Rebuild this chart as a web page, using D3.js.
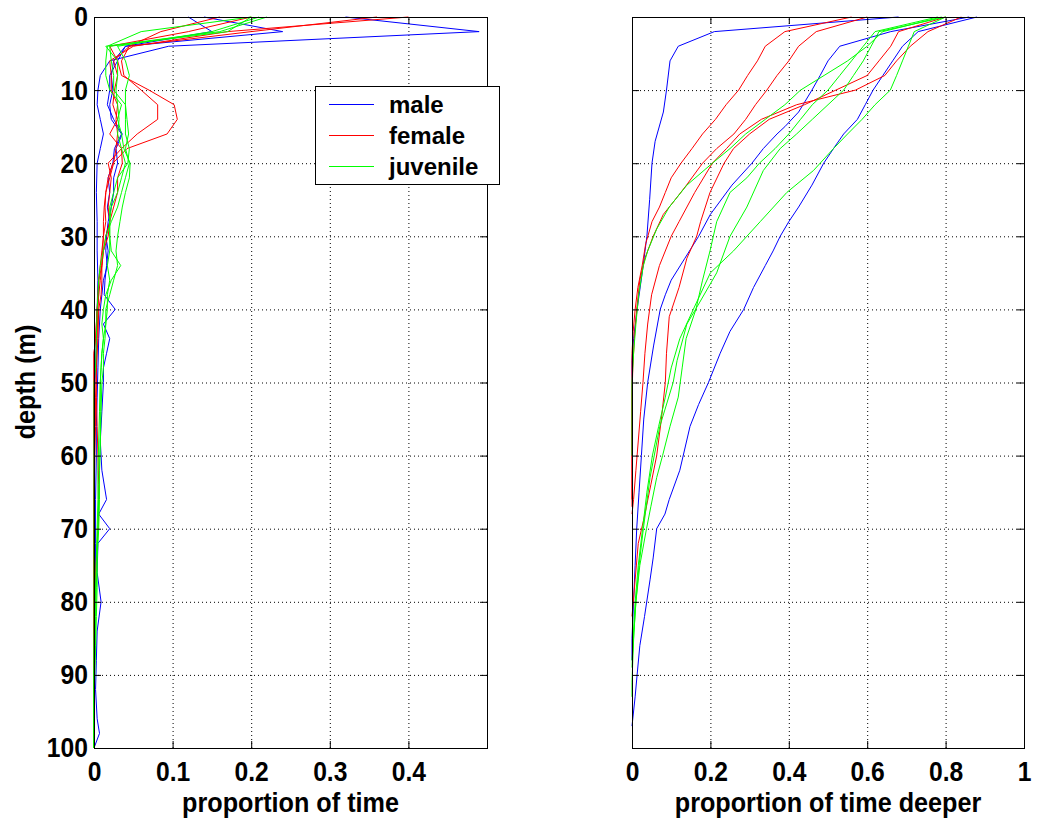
<!DOCTYPE html>
<html>
<head>
<meta charset="utf-8">
<script src="https://cdn.jsdelivr.net/npm/d3@7"></script>
<style>
    body { margin: 0; background: #fff; }
    svg text { font-family: Arial, "Liberation Sans", sans-serif; font-weight: bold; fill: #000; }
    .grid line { stroke: #000; stroke-dasharray: 1,3; }
    .axis line { stroke: #000; }
</style>
</head>
<body>
<div id="chart"></div>
<script>
/* * * * * * * * * * * * * *
*   time at depth, 2 panels  *
* * * * * * * * * * * * * */

// ticks
const depthTicks = [0, 10, 20, 30, 40, 50, 60, 70, 80, 90, 100];
const timeTicks = [0, 0.1, 0.2, 0.3, 0.4];
const deeperTicks = [0, 0.2, 0.4, 0.6, 0.8, 1];

const groupNames = ['male', 'female', 'juvenile'];
const groupColors = ['#0000ff', '#ff0000', '#00ff00'];

// left panel: proportion of time in each depth bin, [depth, proportion]
const maleTime = [
    [[0,0.32],[2,0.49],[4,0.095],[6,0.02],[8,0.008],[10,0.005],[12,0.004],[14,0.008],[16,0.012],[18,0.008],[20,0.004],[24,0.003],[28,0.004],[32,0.004],[36,0.005],[40,0.004],[44,0.003],[48,0.002],[52,0],[100,0]],
    [[0,0.12],[2,0.15],[4,0.04],[6,0.025],[8,0.022],[10,0.024],[12,0.02],[14,0.022],[16,0.035],[18,0.026],[20,0.024],[22,0.018],[24,0.02],[26,0.017],[28,0.02],[30,0.015],[32,0.018],[34,0.016],[36,0.014],[38,0.013],[40,0.027],[42,0.012],[44,0.02],[46,0.016],[48,0.012],[50,0.012],[54,0.01],[58,0.008],[62,0.01],[66,0.016],[68,0.006],[70,0.02],[72,0.005],[76,0.004],[80,0.009],[84,0.004],[88,0.003],[92,0.002],[96,0.004],[98,0.007],[100,0]],
    [[0,0.14],[2,0.24],[4,0.04],[6,0.03],[8,0.02],[10,0.02],[12,0.017],[14,0.025],[16,0.036],[18,0.028],[20,0.03],[22,0.025],[24,0.025],[26,0.022],[28,0.018],[30,0.016],[32,0.015],[34,0.017],[36,0.012],[38,0.01],[40,0.008],[44,0.006],[48,0.005],[52,0.004],[56,0.003],[60,0.003],[66,0.002],[72,0.002],[78,0.002],[84,0],[100,0]]
];
const femaleTime = [
    [[0,0.4],[2,0.17],[4,0.05],[6,0.02],[8,0.022],[10,0.022],[12,0.03],[14,0.028],[16,0.03],[18,0.028],[20,0.025],[22,0.02],[24,0.015],[26,0.014],[28,0.015],[30,0.012],[32,0.01],[34,0.008],[36,0.006],[38,0.006],[40,0.004],[44,0.002],[46,0],[100,0]],
    [[0,0.36],[2,0.2],[4,0.045],[6,0.025],[8,0.03],[10,0.026],[12,0.024],[14,0.03],[16,0.02],[18,0.035],[20,0.036],[22,0.03],[24,0.03],[26,0.025],[28,0.02],[30,0.018],[32,0.012],[34,0.01],[36,0.006],[38,0.005],[40,0.004],[42,0.003],[44,0.002],[46,0],[100,0]],
    [[0,0.2],[2,0.12],[4,0.02],[6,0.03],[8,0.035],[10,0.07],[12,0.102],[14,0.106],[16,0.093],[18,0.042],[20,0.024],[22,0.018],[24,0.015],[26,0.013],[28,0.012],[30,0.012],[32,0.011],[34,0.01],[36,0.01],[38,0.009],[40,0.006],[44,0.005],[48,0.003],[52,0.003],[56,0.004],[60,0.005],[64,0.006],[68,0.006],[72,0.004],[76,0.002],[80,0.001],[84,0],[100,0]],
    [[0,0.16],[2,0.085],[4,0.045],[6,0.035],[8,0.038],[10,0.06],[12,0.081],[14,0.081],[16,0.055],[18,0.035],[20,0.018],[22,0.022],[24,0.02],[26,0.018],[28,0.02],[30,0.015],[32,0.012],[34,0.01],[36,0.008],[38,0.006],[40,0.005],[44,0.004],[48,0.003],[52,0.002],[56,0.002],[60,0.001],[66,0],[100,0]]
];
const juvenileTime = [
    [[0,0.21],[2,0.15],[4,0.03],[6,0.04],[8,0.045],[10,0.04],[12,0.04],[14,0.042],[16,0.044],[18,0.04],[20,0.045],[22,0.04],[24,0.035],[26,0.03],[28,0.022],[30,0.015],[32,0.012],[34,0.008],[36,0.006],[38,0.005],[40,0.004],[44,0.003],[48,0.002],[50,0],[100,0]],
    [[0,0.22],[2,0.16],[4,0.015],[6,0.03],[8,0.03],[10,0.028],[12,0.03],[14,0.032],[16,0.03],[18,0.035],[20,0.04],[22,0.035],[24,0.03],[26,0.022],[28,0.02],[30,0.02],[32,0.022],[34,0.034],[36,0.022],[38,0.015],[40,0.012],[42,0.01],[44,0.012],[46,0.01],[48,0.009],[50,0.008],[54,0.008],[58,0.008],[62,0.007],[66,0.006],[70,0.005],[74,0.004],[78,0.003],[82,0.002],[86,0.002],[90,0.001],[94,0],[100,0]],
    [[0,0.2],[2,0.17],[4,0.02],[6,0.022],[8,0.025],[10,0.025],[12,0.04],[14,0.04],[16,0.04],[18,0.045],[20,0.043],[22,0.03],[24,0.025],[26,0.02],[28,0.02],[30,0.02],[32,0.02],[34,0.017],[36,0.02],[38,0.017],[40,0.017],[42,0.015],[44,0.014],[46,0.012],[48,0.012],[50,0.01],[54,0.009],[58,0.008],[62,0.007],[66,0.007],[70,0.006],[74,0.004],[78,0.004],[82,0.003],[86,0.002],[90,0],[100,0]],
    [[0,0.2],[2,0.06],[4,0.017],[6,0.015],[8,0.015],[10,0.02],[12,0.035],[14,0.03],[16,0.035],[18,0.038],[20,0.046],[22,0.045],[24,0.04],[26,0.036],[28,0.033],[30,0.03],[32,0.028],[34,0.03],[36,0.025],[38,0.02],[40,0.015],[42,0.015],[44,0.012],[46,0.01],[48,0.009],[50,0.008],[54,0.007],[58,0.006],[62,0.005],[66,0.005],[70,0.004],[74,0.003],[78,0.002],[82,0.001],[86,0],[100,0]]
];

// right panel: proportion of time deeper than depth, [depth, proportion]
const maleDeeper = [
    [[0,0.68],[2,0.21],[4,0.118],[6,0.097],[10,0.088],[13,0.08],[17,0.059],[20,0.051],[25,0.045],[30,0.038],[35,0.026],[40,0.013],[44,0.004],[47,0],[60,0]],
    [[0,0.88],[2,0.73],[4,0.69],[6,0.665],[8,0.64],[10,0.615],[12,0.595],[14,0.575],[16,0.54],[18,0.514],[20,0.489],[23,0.459],[26,0.425],[28,0.4],[30,0.378],[32,0.36],[34,0.34],[37,0.31],[40,0.285],[43,0.25],[46,0.225],[50,0.195],[53,0.17],[56,0.148],[62,0.122],[66,0.095],[68,0.084],[70,0.063],[74,0.054],[77,0.046],[82,0.032],[86,0.02],[90,0.013],[93,0.008],[97,0]],
    [[0,0.86],[2,0.66],[4,0.53],[6,0.5],[8,0.48],[10,0.459],[13,0.425],[15,0.39],[16,0.37],[18,0.335],[20,0.306],[23,0.255],[27,0.2],[30,0.17],[33,0.135],[36,0.1],[38,0.085],[40,0.072],[45,0.055],[50,0.04],[55,0.03],[60,0.024],[65,0.018],[70,0.012],[75,0.008],[80,0.004],[85,0],[88,0]]
];
const femaleDeeper = [
    [[0,0.56],[2,0.39],[4,0.34],[6,0.32],[8,0.295],[10,0.272],[12,0.24],[14,0.213],[16,0.18],[18,0.153],[20,0.125],[22,0.1],[24,0.085],[26,0.07],[28,0.051],[31,0.035],[34,0.026],[37,0.015],[40,0.008],[43,0.003],[46,0],[67,0]],
    [[0,0.6],[2,0.47],[4,0.425],[6,0.4],[8,0.37],[10,0.344],[12,0.315],[14,0.29],[16,0.26],[18,0.216],[20,0.18],[23,0.139],[25,0.11],[27,0.08],[30,0.054],[33,0.033],[36,0.02],[40,0.012],[44,0.006],[48,0.002],[52,0],[66,0]],
    [[0,0.8],[2,0.68],[4,0.66],[6,0.63],[8,0.6],[10,0.52],[12,0.44],[14,0.35],[16,0.3],[18,0.259],[20,0.235],[24,0.199],[28,0.175],[30,0.165],[33,0.14],[37,0.12],[41,0.095],[46,0.088],[50,0.085],[55,0.075],[60,0.063],[64,0.048],[68,0.033],[72,0.016],[77,0.008],[82,0]],
    [[0,0.84],[2,0.755],[4,0.71],[6,0.675],[8,0.645],[10,0.57],[12,0.42],[14,0.33],[16,0.275],[18,0.241],[20,0.205],[24,0.16],[28,0.12],[30,0.1],[34,0.07],[38,0.05],[42,0.04],[46,0.033],[50,0.028],[54,0.022],[58,0.016],[62,0.01],[66,0.004],[68,0]]
];
const juvenileDeeper = [
    [[0,0.79],[2,0.64],[4,0.6],[6,0.55],[8,0.49],[10,0.43],[12,0.39],[14,0.34],[16,0.29],[18,0.25],[20,0.205],[23,0.14],[26,0.095],[29,0.063],[32,0.04],[34,0.029],[38,0.017],[42,0.01],[46,0.004],[50,0],[60,0]],
    [[0,0.78],[2,0.62],[4,0.59],[6,0.56],[8,0.53],[10,0.5],[12,0.46],[14,0.43],[16,0.4],[18,0.365],[20,0.325],[22,0.293],[24,0.25],[28,0.216],[32,0.199],[36,0.18],[40,0.163],[44,0.138],[48,0.128],[52,0.118],[56,0.097],[60,0.078],[63,0.063],[67,0.048],[70,0.037],[75,0.02],[80,0.01],[84,0.005],[88,0.002],[91,0],[93,0]],
    [[0,0.8],[2,0.63],[4,0.61],[6,0.59],[8,0.565],[10,0.54],[12,0.5],[14,0.46],[16,0.42],[18,0.378],[21,0.335],[26,0.293],[30,0.25],[35,0.216],[39,0.173],[42,0.14],[47,0.115],[50,0.105],[56,0.071],[63,0.046],[70,0.029],[75,0.018],[80,0.01],[85,0.004],[88,0]],
    [[0,0.8],[2,0.72],[4,0.705],[6,0.69],[8,0.675],[10,0.659],[12,0.62],[14,0.587],[16,0.55],[18,0.514],[21,0.463],[24,0.395],[28,0.327],[32,0.259],[35,0.2],[39,0.165],[44,0.122],[48,0.1],[52,0.085],[56,0.068],[60,0.052],[65,0.038],[70,0.027],[75,0.016],[80,0.008],[85,0.003],[89,0]]
];


class depthVis {
    constructor(svg, groups, opts) {
        this.svg = svg;
        this.groups = groups;
        this.opts = opts;
        this.initVis();
    }

    initVis() {
        let vis = this;
        vis.width = vis.opts.width;
        vis.height = vis.opts.height;

        vis.g = vis.svg.append('g')
            .attr('transform', `translate(${vis.opts.left}, ${vis.opts.top})`);

        vis.x = d3.scaleLinear().domain(vis.opts.xDomain).range([0, vis.width]);
        vis.y = d3.scaleLinear().domain([0, 100]).range([0, vis.height]);

        // dotted grid (no line on the box edges)
        vis.g.append('g').attr('class', 'grid')
            .attr('transform', `translate(0, ${vis.height})`)
            .call(d3.axisBottom(vis.x)
                .tickValues(vis.opts.xTicks.filter(t => t > vis.opts.xDomain[0] && t < vis.opts.xDomain[1]))
                .tickSize(-vis.height).tickFormat(''))
            .call(g => g.select('.domain').remove());
        vis.g.append('g').attr('class', 'grid')
            .call(d3.axisLeft(vis.y)
                .tickValues(depthTicks.slice(1, -1))
                .tickSize(-vis.width).tickFormat(''))
            .call(g => g.select('.domain').remove());

        vis.line = d3.line()
            .x(d => vis.x(d[1]))
            .y(d => vis.y(d[0]));

        vis.wrangleData();
    }

    wrangleData() {
        let vis = this;
        // flatten to one entry per animal so the join is simple
        vis.lines = [];
        vis.groups.forEach(grp => {
            grp.lines.forEach(l => vis.lines.push({color: grp.color, values: l}));
        });
        vis.updateVis();
    }

    updateVis() {
        let vis = this;

        vis.g.append('g').selectAll('path')
            .data(vis.lines)
            .enter().append('path')
            .attr('d', d => vis.line(d.values))
            .attr('fill', 'none')
            .attr('stroke', d => d.color)
            .attr('stroke-width', 1);

        // axes - ticks point inward on all four sides
        let tl = -7;
        vis.g.append('g').attr('class', 'axis')
            .attr('transform', `translate(0, ${vis.height})`)
            .call(d3.axisBottom(vis.x).tickValues(vis.opts.xTicks).tickSize(tl).tickPadding(13)
                .tickFormat(d3.format('~g')));
        vis.g.append('g').attr('class', 'axis')
            .call(d3.axisTop(vis.x).tickValues(vis.opts.xTicks).tickSize(tl).tickFormat(''));
        vis.g.append('g').attr('class', 'axis')
            .call(d3.axisLeft(vis.y).tickValues(depthTicks).tickSize(tl).tickPadding(7)
                .tickFormat(vis.opts.yLabels ? d3.format('d') : ''));
        vis.g.append('g').attr('class', 'axis')
            .attr('transform', `translate(${vis.width}, 0)`)
            .call(d3.axisRight(vis.y).tickValues(depthTicks).tickSize(tl).tickFormat(''));

        vis.g.selectAll('.axis .domain').remove();
        // the original font is a bit narrow, squeeze it sideways
        vis.g.selectAll('.axis text')
            .attr('font-size', 28)
            .attr('font-family', null)
            .attr('transform', 'scale(0.88, 1)');

        // box
        vis.g.append('rect')
            .attr('x', 0.5).attr('y', 0.5)
            .attr('width', vis.width).attr('height', vis.height)
            .attr('fill', 'none').attr('stroke', '#000');

        vis.g.append('text')
            .attr('transform', `translate(${vis.width / 2}, ${vis.height + 64}) scale(0.9, 1)`)
            .attr('text-anchor', 'middle')
            .attr('font-size', 28)
            .text(vis.opts.xLabel);
    }
}


let svg = d3.select('#chart').append('svg')
    .attr('width', 1038)
    .attr('height', 823);

let timeVis = new depthVis(svg, [
    {color: groupColors[0], lines: maleTime},
    {color: groupColors[1], lines: femaleTime},
    {color: groupColors[2], lines: juvenileTime}
], {left: 94, top: 17, width: 393, height: 731, xDomain: [0, 0.5], xTicks: timeTicks,
    yLabels: true, xLabel: 'proportion of time'});

let deeperVis = new depthVis(svg, [
    {color: groupColors[0], lines: maleDeeper},
    {color: groupColors[1], lines: femaleDeeper},
    {color: groupColors[2], lines: juvenileDeeper}
], {left: 632, top: 17, width: 392, height: 731, xDomain: [0, 1], xTicks: deeperTicks,
    yLabels: false, xLabel: 'proportion of time deeper'});

// y label
svg.append('text')
    .attr('transform', 'translate(35, 382) rotate(-90) scale(0.9, 1)')
    .attr('text-anchor', 'middle')
    .attr('font-size', 28)
    .text('depth (m)');

// legend box on the left panel
let legend = svg.append('g').attr('transform', 'translate(315, 86)');
legend.append('rect')
    .attr('x', 0.5).attr('y', 0.5)
    .attr('width', 184).attr('height', 98)
    .attr('fill', '#fff').attr('stroke', '#000');
let rows = legend.selectAll('.row')
    .data(groupNames)
    .enter().append('g')
    .attr('class', 'row')
    .attr('transform', (d, i) => `translate(0, ${18.5 + i * 31})`);
rows.append('line')
    .attr('x1', 14).attr('x2', 59)
    .attr('stroke', (d, i) => groupColors[i]);
rows.append('text')
    .attr('x', 74)
    .attr('dy', '0.35em')
    .attr('font-size', 24)
    .text(d => d);
</script>
</body>
</html>
